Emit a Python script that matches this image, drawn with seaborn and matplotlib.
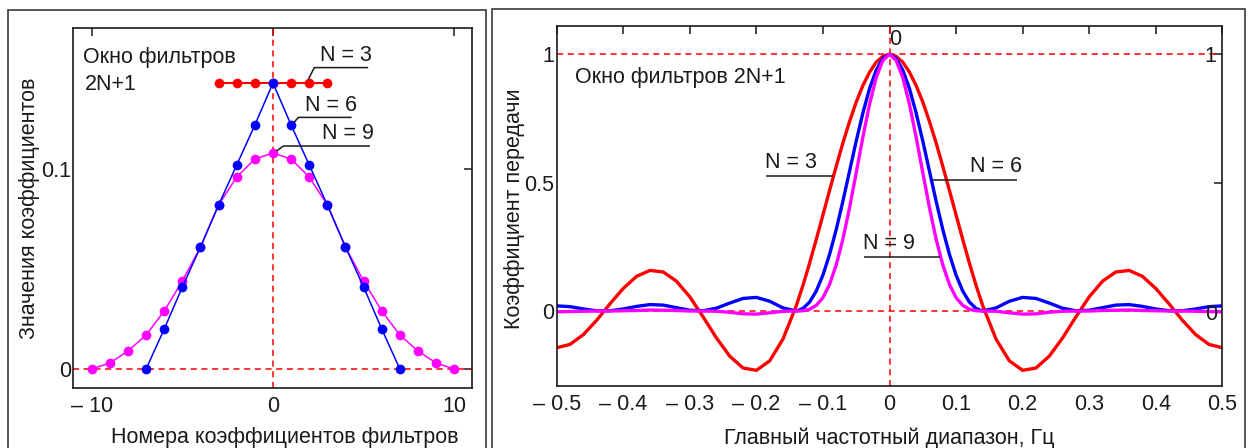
import matplotlib.pyplot as plt
from matplotlib.patches import Rectangle
import seaborn as sns
import pandas as pd

RED = "#ff0000"
BLUE = "#0000ff"
MAGENTA = "#ff00ff"
INK = "#1a1a1a"
FRAME = "#3a3a3a"

sns.set_style("white")
plt.rcParams["font.family"] = ["Liberation Sans", "DejaVu Sans"]

FS = 15.5

# left panel: filter coefficients
IDX_N3 = [-3, -2, -1, 0, 1, 2, 3]
COEF_N3 = [0.143, 0.143, 0.143, 0.143, 0.143, 0.143, 0.143]
IDX_N6 = [-7, -6, -5, -4, -3, -2, -1, 0, 1, 2, 3, 4, 5, 6, 7]
COEF_N6 = [0.000, 0.020, 0.041, 0.061, 0.082, 0.102, 0.122, 0.143,
           0.122, 0.102, 0.082, 0.061, 0.041, 0.020, 0.000]
IDX_N9 = [-10, -9, -8, -7, -6, -5, -4, -3, -2, -1, 0,
          1, 2, 3, 4, 5, 6, 7, 8, 9, 10]
COEF_N9 = [0.000, 0.003, 0.009, 0.017, 0.029, 0.044, 0.061, 0.082, 0.096, 0.105, 0.108,
           0.105, 0.096, 0.082, 0.061, 0.044, 0.029, 0.017, 0.009, 0.003, 0.000]

# right panel: transfer coefficient vs frequency
FREQ = [-0.50, -0.48, -0.46, -0.44, -0.42, -0.40, -0.38, -0.36, -0.34, -0.32,
        -0.30, -0.28, -0.26, -0.24, -0.22, -0.20, -0.18, -0.16,
        -0.14, -0.13, -0.12, -0.11, -0.10, -0.09, -0.08, -0.07, -0.06, -0.05,
        -0.04, -0.03, -0.02, -0.01, 0.00, 0.01, 0.02, 0.03, 0.04, 0.05,
        0.06, 0.07, 0.08, 0.09, 0.10, 0.11, 0.12, 0.13, 0.14,
        0.16, 0.18, 0.20, 0.22, 0.24, 0.26, 0.28, 0.30, 0.32,
        0.34, 0.36, 0.38, 0.40, 0.42, 0.44, 0.46, 0.48, 0.50]
GAIN_N3 = [-0.143, -0.130, -0.092, -0.036, 0.028, 0.088, 0.135, 0.158, 0.152, 0.116,
           0.055, -0.023, -0.105, -0.176, -0.222, -0.231, -0.194, -0.109,
           0.021, 0.100, 0.187, 0.279, 0.374, 0.470, 0.564, 0.655, 0.738, 0.814,
           0.878, 0.930, 0.969, 0.992, 1.000, 0.992, 0.969, 0.930, 0.878, 0.814,
           0.738, 0.655, 0.564, 0.470, 0.374, 0.279, 0.187, 0.100, 0.021,
           -0.109, -0.194, -0.231, -0.222, -0.176, -0.105, -0.023, 0.055, 0.116,
           0.152, 0.158, 0.135, 0.088, 0.028, -0.036, -0.092, -0.130, -0.143]
GAIN_N6 = [0.020, 0.017, 0.008, 0.001, 0.001, 0.008, 0.018, 0.025, 0.023, 0.013,
           0.003, 0.001, 0.011, 0.031, 0.049, 0.053, 0.038, 0.012,
           0.000, 0.010, 0.035, 0.078, 0.140, 0.221, 0.318, 0.428, 0.545, 0.662,
           0.771, 0.866, 0.938, 0.984, 1.000, 0.984, 0.938, 0.866, 0.771, 0.662,
           0.545, 0.428, 0.318, 0.221, 0.140, 0.078, 0.035, 0.010, 0.000,
           0.012, 0.038, 0.053, 0.049, 0.031, 0.011, 0.001, 0.003, 0.013,
           0.023, 0.025, 0.018, 0.008, 0.001, 0.001, 0.008, 0.017, 0.020]
GAIN_N9 = [-0.003, -0.002, -0.001, 0.000, 0.000, 0.001, 0.002, 0.004, 0.003, 0.002,
           0.000, 0.000, -0.001, -0.005, -0.011, -0.012, -0.007, -0.001,
           0.000, 0.001, 0.007, 0.022, 0.052, 0.104, 0.180, 0.280, 0.403, 0.539,
           0.677, 0.805, 0.909, 0.976, 1.000, 0.976, 0.909, 0.805, 0.677, 0.539,
           0.403, 0.280, 0.180, 0.104, 0.052, 0.022, 0.007, 0.001, 0.000,
           -0.001, -0.007, -0.012, -0.011, -0.005, -0.001, 0.000, 0.000, 0.002,
           0.003, 0.004, 0.002, 0.001, 0.000, 0.000, -0.001, -0.002, -0.003]

LEFT_XTICKS = [-10, 0, 10]
LEFT_XLABELS = ["\u2013 10", "0", "10"]
LEFT_YTICKS = [0, 0.1]
LEFT_YLABELS = ["0", "0.1"]
RIGHT_XTICKS = [-0.5, -0.4, -0.3, -0.2, -0.1, 0, 0.1, 0.2, 0.3, 0.4, 0.5]
RIGHT_XLABELS = ["\u2013 0.5", "\u2013 0.4", "\u2013 0.3", "\u2013 0.2", "\u2013 0.1",
                 "0", "0.1", "0.2", "0.3", "0.4", "0.5"]
RIGHT_YTICKS = [0, 0.5, 1]
RIGHT_YLABELS = ["0", "0.5", "1"]


def style_axes(ax):
    for s in ax.spines.values():
        s.set_color(INK)
        s.set_linewidth(1.2)
    ax.tick_params(direction="in", length=6, width=1.1, colors=INK,
                   top=True, right=True, labelsize=FS)
    ax.tick_params(axis="x", pad=6)
    ax.tick_params(axis="y", pad=1.5)
    ax.grid(False)


def leader(ax, xs, ys):
    ax.plot(xs, ys, color=INK, lw=1.1, solid_capstyle="butt")


fig = plt.figure(figsize=(12.53, 4.48), dpi=100)

# panel frames
fig.patches.append(Rectangle((0.0064, -0.02), 0.3815, 0.9977, transform=fig.transFigure,
                             fill=False, lw=1.2, ec=FRAME))
fig.patches.append(Rectangle((0.3927, -0.02), 0.6009, 0.9999, transform=fig.transFigure,
                             fill=False, lw=1.2, ec=FRAME))

ax_l = fig.add_axes([0.0583, 0.1339, 0.3184, 0.8036])
ax_r = fig.add_axes([0.4443, 0.1384, 0.5312, 0.8036])

# ---- left panel
dash = (0, (4, 3))
ax_l.axhline(0, color=RED, lw=1.1, ls=dash, zorder=1)
ax_l.axvline(0, color=RED, lw=1.1, ls=dash, zorder=1)

sns.lineplot(x=IDX_N9, y=COEF_N9, color=MAGENTA, marker="o", markersize=7,
             markeredgewidth=0, lw=1.1, ax=ax_l)
sns.lineplot(x=IDX_N3, y=COEF_N3, color=RED, marker="o", markersize=7,
             markeredgewidth=0, lw=1.5, ax=ax_l)
sns.lineplot(x=IDX_N6, y=COEF_N6, color=BLUE, marker="o", markersize=7,
             markeredgewidth=0, lw=1.1, ax=ax_l)

ax_l.set_xlim(-11.03, 10.98)
ax_l.set_ylim(-0.0095, 0.1705)
ax_l.set_xticks(LEFT_XTICKS, LEFT_XLABELS)
ax_l.set_yticks(LEFT_YTICKS, LEFT_YLABELS)
style_axes(ax_l)

ax_l.set_xlabel("Номера коэффициентов фильтров", fontsize=FS, color=INK)
ax_l.xaxis.set_label_coords(0.531, -0.137)
ax_l.xaxis.label.set_va("center")
ax_l.set_ylabel("Значения коэффициентов", fontsize=FS, color=INK)
ax_l.yaxis.set_label_coords(-0.110, 0.5)
ax_l.yaxis.label.set_va("center")

ax_l.text(0.024, 0.919, "Окно фильтров", transform=ax_l.transAxes,
          fontsize=FS, va="center", ha="left", color=INK)
ax_l.text(0.030, 0.842, "2N+1", transform=ax_l.transAxes,
          fontsize=FS, va="center", ha="left", color=INK)

ax_l.text(2.59, 0.157, "N = 3", fontsize=FS, va="center", ha="left", color=INK)
leader(ax_l, [1.95, 2.28, 5.25], [0.1448, 0.1507, 0.1507])
ax_l.text(1.77, 0.132, "N = 6", fontsize=FS, va="center", ha="left", color=INK)
leader(ax_l, [1.15, 1.40, 4.34], [0.1232, 0.1258, 0.1258])
ax_l.text(2.69, 0.118, "N = 9", fontsize=FS, va="center", ha="left", color=INK)
leader(ax_l, [0.20, 0.57, 5.35], [0.1090, 0.1115, 0.1115])

# ---- right panel
ax_r.axhline(1, color=RED, lw=1.1, ls=dash, zorder=1)
ax_r.axhline(0, color=RED, lw=1.1, ls=dash, zorder=1)
ax_r.axvline(0, color=RED, lw=1.1, ls=dash, zorder=1)

n = len(FREQ)
resp = pd.DataFrame({
    "f": FREQ * 3,
    "gain": GAIN_N3 + GAIN_N6 + GAIN_N9,
    "N": ["N = 3"] * n + ["N = 6"] * n + ["N = 9"] * n,
})
sns.lineplot(data=resp, x="f", y="gain", hue="N", palette=[RED, BLUE, MAGENTA],
             estimator=None, sort=False, lw=2.4, legend=False, ax=ax_r)

ax_r.set_xlim(-0.5, 0.5)
ax_r.set_ylim(-0.292, 1.110)
ax_r.set_xticks(RIGHT_XTICKS, RIGHT_XLABELS)
ax_r.set_yticks(RIGHT_YTICKS, RIGHT_YLABELS)
style_axes(ax_r)

ax_r.set_xlabel("Главный частотный диапазон, Гц", fontsize=FS, color=INK)
ax_r.xaxis.set_label_coords(0.4998, -0.145)
ax_r.xaxis.label.set_va("center")
ax_r.set_ylabel("Коэффициент передачи", fontsize=FS, color=INK)
ax_r.yaxis.set_label_coords(-0.064, 0.492)
ax_r.yaxis.label.set_va("center")

ax_r.text(-0.4725, 0.908, "Окно фильтров 2N+1", fontsize=FS, va="center", ha="left", color=INK)

ax_r.text(-0.187, 0.577, "N = 3", fontsize=FS, va="center", ha="left", color=INK)
leader(ax_r, [-0.1856, -0.0844], [0.526, 0.526])
ax_r.text(0.1205, 0.561, "N = 6", fontsize=FS, va="center", ha="left", color=INK)
leader(ax_r, [0.0654, 0.192], [0.510, 0.510])
ax_r.text(-0.0398, 0.261, "N = 9", fontsize=FS, va="center", ha="left", color=INK)
leader(ax_r, [-0.0383, 0.0763], [0.2115, 0.2115])

# marker value labels of the dashed lines
ax_r.text(-0.001, 1.056, "0", fontsize=FS, va="center", ha="left", color=INK)
ax_r.text(0.491, 0.99, "1", fontsize=FS, va="center", ha="right", color=INK)
ax_r.text(0.493, -0.012, "0", fontsize=FS, va="center", ha="right", color=INK)

fig.savefig("out.png", dpi=100)
